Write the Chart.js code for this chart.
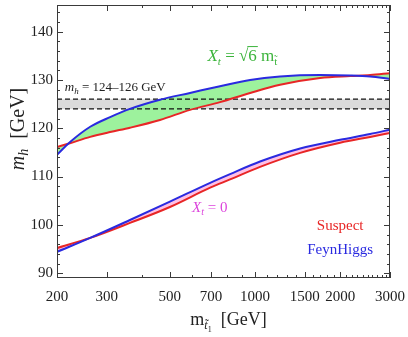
<!DOCTYPE html>
<html>
<head>
<meta charset="utf-8">
<script src="https://cdn.jsdelivr.net/npm/chart.js@4/dist/chart.umd.min.js"></script>
<style>
  html, body { margin: 0; padding: 0; background: #fff; }
  canvas { display: block; }
</style>
</head>
<body>
<canvas id="mh" width="408" height="337"></canvas>
<script>
// light stop mass grid (GeV) and Higgs mass predictions (GeV)
const stopMassMax = [200, 222, 262, 308, 362, 462, 590, 753, 962, 1227, 1699, 2170, 2554, 3000];
const feynHiggsMax = [114.5, 117.1, 120.3, 122.3, 124.0, 125.9, 127.3, 128.7, 130.0, 130.7, 131.0, 130.9, 130.7, 130.2];
const suspectMax = [116.1, 116.9, 118.2, 119.2, 120.1, 121.7, 123.8, 125.4, 127.3, 129.0, 130.4, 130.8, 131.0, 131.4];

const stopMassZero = [200, 262, 362, 501, 695, 817, 1043, 1445, 2000, 2552, 3000];
const feynHiggsZero = [94.4, 97.3, 101.0, 104.8, 108.7, 110.5, 113.1, 115.8, 117.6, 118.8, 119.7];
const suspectZero = [95.2, 97.3, 100.4, 103.7, 107.7, 109.4, 112.0, 114.9, 117.0, 118.2, 119.0];

// measured Higgs mass window
const bandLow = 124;
const bandHigh = 126;
const bandRange = [200, 3000];

const xTicks = [200, 300, 500, 700, 1000, 1500, 2000, 3000];
const yTicks = [90, 100, 110, 120, 130, 140];

const pts = (xs, ys) => xs.map((x, i) => ({ x: x, y: ys[i] }));
const flat = (v) => bandRange.map((x) => ({ x: x, y: v }));

const SERIF = '"Liberation Serif", "DejaVu Serif", serif';
const BLUE = "#2a2ae0";
const RED = "#e82626";

// draws a row of text pieces with their own fonts / vertical shifts
function drawRuns(ctx, x, y, parts, align) {
  let total = 0;
  parts.forEach((p) => {
    ctx.font = p.font;
    p.w = ctx.measureText(p.t).width;
    total += p.w;
  });
  let cx = align === "center" ? x - total / 2 : x;
  parts.forEach((p) => {
    ctx.font = p.font;
    ctx.fillStyle = p.color;
    ctx.fillText(p.t, cx, y + (p.dy || 0));
    if (p.over) {
      ctx.strokeStyle = p.color;
      ctx.lineWidth = 1;
      ctx.beginPath();
      ctx.moveTo(cx - 1, y - p.over);
      ctx.lineTo(cx + p.w + 1, y - p.over);
      ctx.stroke();
    }
    cx += p.w;
  });
}

const frameTicks = {
  id: "frameTicks",
  afterDraw(chart) {
    const { ctx, chartArea: a, scales } = chart;
    const xs = scales.x, ys = scales.y;
    ctx.save();
    ctx.strokeStyle = "#3a3a3a";
    ctx.lineWidth = 1;
    ctx.strokeRect(a.left + 0.5, a.top + 0.5, a.right - a.left - 1, a.bottom - a.top - 1);

    const tick = (x1, y1, x2, y2) => {
      ctx.beginPath();
      ctx.moveTo(x1, y1);
      ctx.lineTo(x2, y2);
      ctx.stroke();
    };
    // x ticks (bottom and top, pointing inward)
    for (let v = 200; v <= 3000; v += 100) {
      const px = Math.round(xs.getPixelForValue(v)) + 0.5;
      const len = xTicks.includes(v) ? 6 : 3;
      tick(px, a.bottom, px, a.bottom - len);
      tick(px, a.top, px, a.top + len);
    }
    // y ticks (left and right)
    for (let v = 90; v <= 144; v += 2) {
      const py = Math.round(ys.getPixelForValue(v)) + 0.5;
      const len = v % 10 === 0 ? 6 : 3;
      tick(a.left, py, a.left + len, py);
      tick(a.right, py, a.right - len, py);
    }

    ctx.textBaseline = "alphabetic";
    // axis titles
    drawRuns(ctx, (a.left + a.right) / 2 + 5, 325, [
      { t: "m", font: "18px " + SERIF, color: "#222" },
      { t: "t\u0303", font: "italic 12px " + SERIF, color: "#222", dy: 4 },
      { t: "1", font: "8px " + SERIF, color: "#222", dy: 7 },
      { t: "  [GeV]", font: "18px " + SERIF, color: "#222" },
    ], "center");

    ctx.save();
    ctx.translate(17, 129);
    ctx.rotate(-Math.PI / 2);
    drawRuns(ctx, 0, 7, [
      { t: "m", font: "italic 20px " + SERIF, color: "#222" },
      { t: "h", font: "italic 14px " + SERIF, color: "#222", dy: 4 },
      { t: "  [GeV]", font: "20px " + SERIF, color: "#222" },
    ], "center");
    ctx.restore();

    // annotations placed in data coordinates
    const at = (x, y) => [xs.getPixelForValue(x), ys.getPixelForValue(y)];
    let p = at(213, 127.7);
    drawRuns(ctx, p[0], p[1], [
      { t: "m", font: "italic 13px " + SERIF, color: "#222" },
      { t: "h", font: "italic 9px " + SERIF, color: "#222", dy: 3 },
      { t: " = 124\u2013126 GeV", font: "13px " + SERIF, color: "#222" },
    ]);

    const green = "#3cb43c";
    p = at(680, 134.0);
    drawRuns(ctx, p[0], p[1], [
      { t: "X", font: "italic 17px " + SERIF, color: green },
      { t: "t", font: "italic 11px " + SERIF, color: green, dy: 4 },
      { t: " = ", font: "17px " + SERIF, color: green },
      { t: "\u221a", font: "17px " + SERIF, color: green },
      { t: "6", font: "17px " + SERIF, color: green, over: 14 },
      { t: " m", font: "17px " + SERIF, color: green },
      { t: "t\u0303", font: "11px " + SERIF, color: green, dy: 4 },
    ]);

    const magenta = "#dc44dc";
    p = at(600, 102.6);
    drawRuns(ctx, p[0], p[1], [
      { t: "X", font: "italic 15px " + SERIF, color: magenta },
      { t: "t", font: "italic 10px " + SERIF, color: magenta, dy: 3 },
      { t: " = 0", font: "15px " + SERIF, color: magenta },
    ]);

    p = at(2000, 98.9);
    drawRuns(ctx, p[0], p[1], [{ t: "Suspect", font: "15px " + SERIF, color: RED }], "center");
    p = at(2000, 94.0);
    drawRuns(ctx, p[0], p[1], [{ t: "FeynHiggs", font: "15px " + SERIF, color: BLUE }], "center");
    ctx.restore();
  },
};

const curve = (color) => ({
  borderColor: color,
  borderWidth: 2,
  pointRadius: 0,
  cubicInterpolationMode: "monotone",
  order: 0,
});

const dashed = {
  borderColor: "#111",
  borderWidth: 1.3,
  borderDash: [5, 3],
  pointRadius: 0,
  order: 1,
};

new Chart(document.getElementById("mh"), {
  type: "line",
  data: {
    datasets: [
      { ...curve(BLUE), label: "FeynHiggs Xt=sqrt6", data: pts(stopMassMax, feynHiggsMax), fill: "+1", backgroundColor: "rgba(140,240,140,0.85)" },
      { ...curve(RED), label: "Suspect Xt=sqrt6", data: pts(stopMassMax, suspectMax), fill: false },
      { ...curve(BLUE), label: "FeynHiggs Xt=0", data: pts(stopMassZero, feynHiggsZero), fill: "+1", backgroundColor: "rgba(255,150,210,0.6)" },
      { ...curve(RED), label: "Suspect Xt=0", data: pts(stopMassZero, suspectZero), fill: false },
      { ...dashed, label: "band low", data: flat(bandLow), fill: false },
      { ...dashed, label: "band high", data: flat(bandHigh), fill: "-1", backgroundColor: "rgba(0,0,0,0.14)" },
    ],
  },
  options: {
    responsive: false,
    animation: false,
    devicePixelRatio: 1,
    layout: { padding: { left: 0, top: 5, right: 18, bottom: 0 } },
    plugins: {
      legend: { display: false },
      tooltip: { enabled: false },
      filler: { drawTime: "beforeDatasetsDraw" },
    },
    scales: {
      x: {
        type: "logarithmic",
        min: 200,
        max: 3000,
        grid: { display: false, drawTicks: false },
        border: { display: false },
        afterBuildTicks: (s) => { s.ticks = xTicks.map((v) => ({ value: v })); },
        afterFit: (s) => { s.height = 59; s.paddingLeft = 0; s.paddingRight = 0; },
        ticks: {
          autoSkip: false,
          maxRotation: 0,
          padding: 10,
          color: "#222",
          font: { family: SERIF, size: 15 },
          callback: (v) => String(v),
        },
      },
      y: {
        type: "linear",
        min: 89,
        max: 145.5,
        grid: { display: false, drawTicks: false },
        border: { display: false },
        afterBuildTicks: (s) => { s.ticks = yTicks.map((v) => ({ value: v })); },
        afterFit: (s) => { s.width = 57; s.paddingTop = 0; s.paddingBottom = 0; },
        ticks: {
          padding: 4,
          color: "#222",
          font: { family: SERIF, size: 15 },
          callback: (v) => String(v),
        },
      },
    },
  },
  plugins: [frameTicks],
});
</script>
</body>
</html>
